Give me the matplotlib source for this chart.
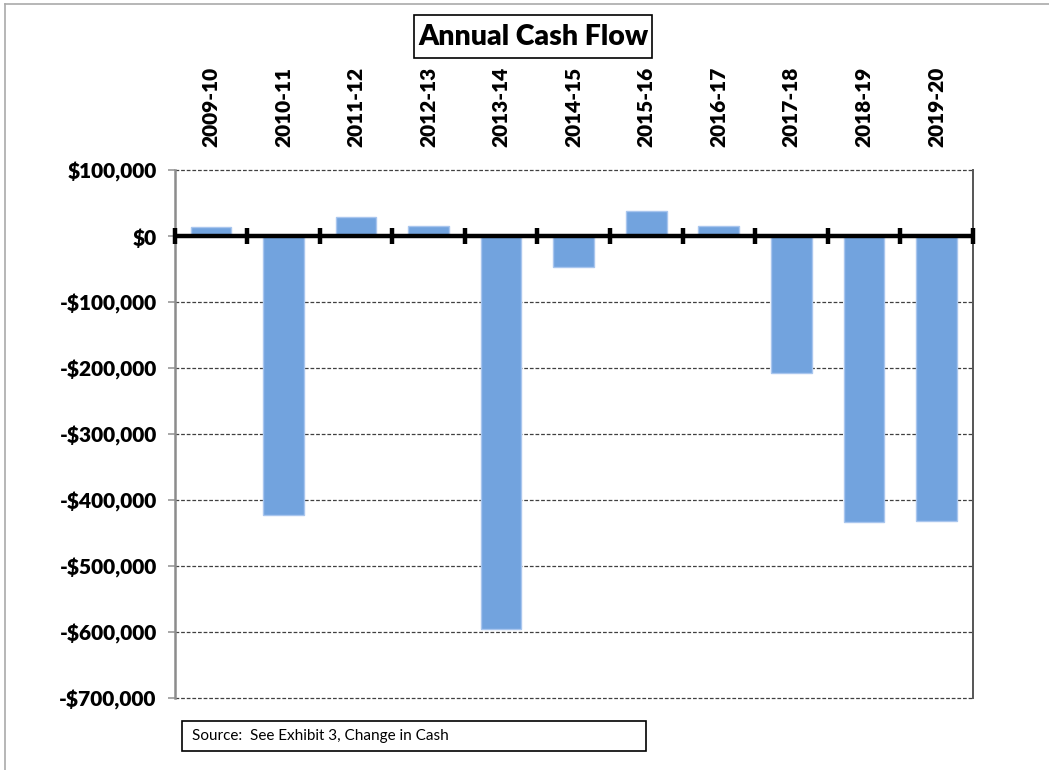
import matplotlib
matplotlib.use('Agg')
import matplotlib.pyplot as plt
from matplotlib.patches import Rectangle
from matplotlib.lines import Line2D
import numpy as np

# data
years = ['2009-10', '2010-11', '2011-12', '2012-13', '2013-14', '2014-15',
         '2015-16', '2016-17', '2017-18', '2018-19', '2019-20']
cash_flow = [14400, -421600, 30000, 15900, -594600, -46700,
             38700, 15900, -207100, -432800, -430700]
y_ticks = [100000, 0, -100000, -200000, -300000, -400000, -500000, -600000, -700000]

plt.rcParams['font.family'] = ['Lato', 'DejaVu Sans']

W, H = 1049, 770
fig = plt.figure(figsize=(W / 100, H / 100), dpi=100)
ax = fig.add_axes([174.7 / W, 1 - 698.4 / H, (972.7 - 174.7) / W, (698.4 - 170.5) / H])

x = np.arange(len(years))
ax.bar(x, cash_flow, width=0.56, color='#72a3de', edgecolor='#a9c6ee', linewidth=1, zorder=3)

ax.set_xlim(-0.5, len(years) - 0.5)
ax.set_ylim(-700000, 100000)

# dashed gridlines (top and bottom ones double as the frame)
for v in y_ticks:
    if v != 0:
        ax.axhline(v, color='#404040', linestyle=(0, (3, 1.5)), linewidth=0.9,
                   zorder=1, clip_on=False)

# thick zero line with category boundary ticks
ax.axhline(0, color='black', linewidth=3.2, zorder=4)
bounds = np.arange(-0.5, len(years), 1.0)
ax.plot(bounds, np.zeros_like(bounds), linestyle='none', marker='|', markersize=11,
        markeredgewidth=3.2, color='black', zorder=5, clip_on=False)

# y axis
ax.set_yticks(y_ticks)
ax.set_yticklabels(['$0' if v == 0 else ('-$' if v < 0 else '$') + f'{abs(v):,}' for v in y_ticks],
                   fontsize=15, fontweight='heavy')
ax.tick_params(axis='y', direction='out', length=5, width=1.2, color='#999999', pad=8)

# category labels on top
ax.xaxis.tick_top()
ax.set_xticks(x)
ax.set_xticklabels(years, rotation=90, fontsize=15, fontweight='heavy')
ax.tick_params(axis='x', length=0, pad=17)

ax.spines['left'].set_color('#8c8c8c')
ax.spines['left'].set_linewidth(1.8)
ax.spines['right'].set_color('#555555')
ax.spines['right'].set_linewidth(1.4)
ax.spines['top'].set_visible(False)
ax.spines['bottom'].set_visible(False)

# title box
fig.patches.append(Rectangle((414 / W, 1 - 58 / H), (652 - 414) / W, (58 - 15) / H,
                             transform=fig.transFigure, fill=False, edgecolor='black', linewidth=1.2))
fig.text(533 / W, 1 - 37 / H, 'Annual Cash Flow', ha='center', va='center',
         fontsize=20.5, fontweight='heavy')

# source box
fig.patches.append(Rectangle((181.7 / W, 1 - 750.7 / H), (645.7 - 181.7) / W, 30 / H,
                             transform=fig.transFigure, fill=False, edgecolor='black', linewidth=1.2))
fig.text(192 / W, 1 - 736 / H, 'Source:  See Exhibit 3, Change in Cash', ha='left', va='center',
         fontsize=11)

# outer frame lines
fig.add_artist(Line2D([5 / W, 5 / W], [0, 1 - 4 / H], transform=fig.transFigure,
                      color='#aaaaaa', linewidth=1.2))
fig.add_artist(Line2D([5 / W, 1], [1 - 4 / H, 1 - 4 / H], transform=fig.transFigure,
                      color='#aaaaaa', linewidth=1.2))

fig.savefig('out.png', dpi=100)
